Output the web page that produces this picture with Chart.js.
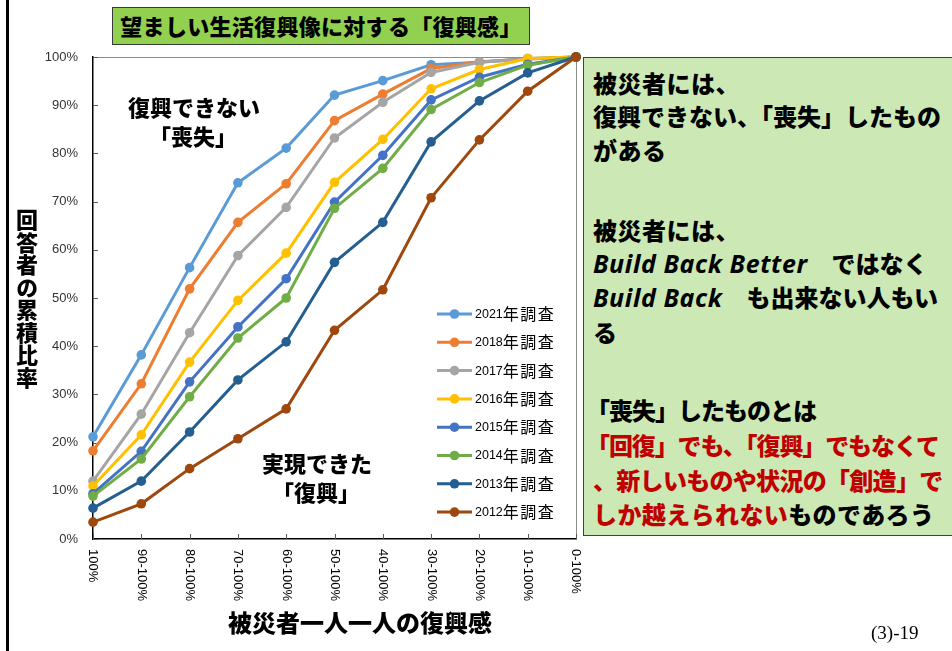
<!DOCTYPE html>
<html><head><meta charset="utf-8">
<script src="https://cdn.jsdelivr.net/npm/chart.js@4.4.1/dist/chart.umd.min.js"></script>
<style>
body{margin:0;background:#fff;}
#wrap{position:relative;width:952px;height:651px;overflow:hidden;background:#fff;font-family:"Noto Sans CJK JP","Noto Sans",sans-serif;}
#c{position:absolute;left:0;top:0;width:952px;height:651px;}
.abs{position:absolute;white-space:nowrap;}
.jp{font-family:"Noto Sans CJK JP",sans-serif;font-weight:900;color:#000;}
.ln{position:absolute;left:593px;white-space:nowrap;font-family:"Noto Sans CJK JP",sans-serif;font-weight:900;color:#000;font-size:24px;line-height:34px;height:34px;}
.red{color:#C00000;}
.lat{font-family:"Noto Sans","DejaVu Sans",sans-serif;font-style:italic;font-weight:700;font-size:25px;letter-spacing:0.6px;}
</style></head><body>
<div id="wrap">
<canvas id="c" width="952" height="651"></canvas>
<div class="abs" style="left:6px;top:0;width:2.5px;height:651px;background:#000"></div>
<div class="abs jp" style="left:112px;top:7px;width:418px;height:38px;box-sizing:border-box;background:#92D050;border:1.5px solid #3a3a3a;font-size:22px;line-height:35px;text-align:center;letter-spacing:0.3px;">望ましい生活復興像に対する「復興感」</div>
<div class="abs jp" style="left:16px;top:209px;font-size:22px;line-height:22px;writing-mode:vertical-rl;text-orientation:upright;letter-spacing:0.5px;">回答者の累積比率</div>
<div class="abs jp" style="left:210px;top:609px;width:300px;text-align:center;font-size:24px;line-height:26px;">被災者一人一人の復興感</div>
<div class="abs jp" style="left:94px;top:94px;width:200px;text-align:center;font-size:22px;line-height:24px;">復興できない</div>
<div class="abs jp" style="left:93px;top:123px;width:200px;text-align:center;font-size:22px;line-height:24px;">「喪失」</div>
<div class="abs jp" style="left:217px;top:450px;width:200px;text-align:center;font-size:22px;line-height:24px;">実現できた</div>
<div class="abs jp" style="left:216px;top:479px;width:200px;text-align:center;font-size:22px;line-height:24px;">「復興」</div>
<div class="abs" style="left:583px;top:57px;width:380px;height:479px;box-sizing:border-box;background:#CCE8B4;border:1px solid #404040;"></div>
<div class="ln" style="top:66px;letter-spacing:0.5px;">被災者には、</div>
<div class="ln" style="top:99px;">復興できない、「喪失」したもの</div>
<div class="ln" style="top:133px;letter-spacing:0.5px;">がある</div>
<div class="ln" style="top:213px;letter-spacing:0.5px;">被災者には、</div>
<div class="ln" style="top:246px;"><span class="lat">Build Back Better</span>　ではなく</div>
<div class="ln" style="top:280px;"><span class="lat">Build Back</span>　も出来ない人もい</div>
<div class="ln" style="top:315px;">る</div>
<div class="ln" style="top:393px;left:586px;letter-spacing:-1.0px;">「喪失」したものとは</div>
<div class="ln red" style="top:428px;left:586px;letter-spacing:-1.1px;">「回復」でも、「復興」でもなくて</div>
<div class="ln red" style="top:463px;letter-spacing:-0.7px;">、新しいものや状況の「創造」で</div>
<div class="ln" style="top:497px;letter-spacing:0.4px;"><span class="red">しか越えられない</span>ものであろう</div>
<div class="abs" style="left:871px;top:621px;font-family:'Liberation Serif',serif;font-size:19px;line-height:24px;color:#000;">(3)-19</div>
</div>
<script>
const categories = ['100%','90-100%','80-100%','70-100%','60-100%','50-100%','40-100%','30-100%','20-100%','10-100%','0-100%'];
const seriesLabels = ['2021年調査','2018年調査','2017年調査','2016年調査','2015年調査','2014年調査','2013年調査','2012年調査'];
const seriesColors = ['#5B9BD5','#ED7D31','#A5A5A5','#FFC000','#4472C4','#70AD47','#255E91','#9E480E'];
const v2021 = [21.2, 38.2, 56.3, 73.9, 81.1, 92.1, 95.1, 98.4, 98.9, 99.7, 100];
const v2018 = [18.3, 32.2, 51.9, 65.7, 73.7, 86.8, 92.3, 97.6, 99.0, 99.6, 100];
const v2017 = [12.0, 25.9, 42.8, 58.8, 68.8, 83.2, 90.6, 96.8, 98.9, 99.6, 100];
const v2016 = [11.0, 21.6, 36.7, 49.5, 59.3, 74.0, 82.9, 93.4, 97.4, 99.7, 100];
const v2015 = [9.4, 18.2, 32.6, 44.0, 54.0, 69.9, 79.6, 91.1, 95.8, 98.5, 100];
const v2014 = [8.9, 16.6, 29.5, 41.7, 50.0, 68.6, 76.9, 89.1, 94.7, 98.3, 100];
const v2013 = [6.4, 12.0, 22.2, 33.0, 40.9, 57.4, 65.7, 82.4, 90.9, 96.7, 100];
const v2012 = [3.5, 7.3, 14.6, 20.8, 27.0, 43.3, 51.7, 70.8, 82.8, 92.9, 100];
const yTicks = [0,10,20,30,40,50,60,70,80,90,100];
const allValues = [v2021, v2018, v2017, v2016, v2015, v2014, v2013, v2012];

const datasets = allValues.map((vals, i) => ({
  label: seriesLabels[i],
  data: vals,
  borderColor: seriesColors[i],
  backgroundColor: seriesColors[i],
  pointBackgroundColor: seriesColors[i],
  pointBorderColor: seriesColors[i],
  borderWidth: 3,
  pointRadius: 4.8,
  pointBorderWidth: 0,
  tension: 0,
  clip: false,
  order: allValues.length - i
}));

const decor = {
  id: 'decor',
  beforeDatasetsDraw(chart) {
    const {ctx, chartArea: a, scales: {x, y}} = chart;
    ctx.save();
    ctx.strokeStyle = '#8c8c8c'; ctx.lineWidth = 1;
    ctx.beginPath();
    ctx.moveTo(a.left, a.top + 0.5); ctx.lineTo(a.right + 0.5, a.top + 0.5); ctx.lineTo(a.right + 0.5, a.bottom);
    ctx.stroke();
    ctx.strokeStyle = '#595959';
    ctx.beginPath();
    y.ticks.forEach((t, i) => { const py = Math.round(y.getPixelForTick(i)) + 0.5; ctx.moveTo(a.left, py); ctx.lineTo(a.left + 5, py); });
    x.ticks.forEach((t, i) => { const px = Math.round(x.getPixelForTick(i)) + 0.5; ctx.moveTo(px, a.bottom); ctx.lineTo(px, a.bottom - 5); });
    ctx.stroke();
    ctx.restore();
  },
  afterDraw(chart) {
    const {ctx, chartArea: a, scales: {x}} = chart;
    ctx.save();
    ctx.fillStyle = '#000';
    ctx.font = '13px "Liberation Sans", Arial, sans-serif';
    ctx.textAlign = 'left'; ctx.textBaseline = 'middle';
    x.ticks.forEach((t, i) => {
      const px = x.getPixelForTick(i);
      ctx.save();
      ctx.translate(px, a.bottom + 10);
      ctx.rotate(Math.PI / 2);
      ctx.fillText(x.getLabelForValue(t.value), 0, 0);
      ctx.restore();
    });
    chart.data.datasets.forEach((ds, i) => {
      const cy = 314 + i * 28.3;
      ctx.strokeStyle = ds.borderColor; ctx.lineWidth = 3;
      ctx.beginPath(); ctx.moveTo(437, cy); ctx.lineTo(472, cy); ctx.stroke();
      ctx.fillStyle = ds.borderColor;
      ctx.beginPath(); ctx.arc(454.5, cy, 4.8, 0, Math.PI * 2); ctx.fill();
      const m = ds.label.match(/^(\d+)(.*)$/);
      ctx.fillStyle = '#000';
      ctx.textAlign = 'left'; ctx.textBaseline = 'middle';
      ctx.font = '12.5px "Liberation Sans", Arial, sans-serif';
      ctx.fillText(m[1], 475, cy + 0.5);
      const w = ctx.measureText(m[1]).width;
      ctx.font = '16px "Noto Sans CJK JP", sans-serif';
      let xx = 475 + w;
      for (const ch of m[2]) { ctx.fillText(ch, xx, cy); xx += 17.5; }
    });
    ctx.restore();
  }
};

new Chart(document.getElementById('c'), {
  type: 'line',
  data: { labels: categories, datasets },
  options: {
    responsive: false,
    animation: false,
    devicePixelRatio: 1,
    layout: { padding: { left: 0, top: 57, right: 376, bottom: 0 } },
    plugins: { legend: { display: false }, tooltip: { enabled: false }, title: { display: false } },
    scales: {
      x: {
        type: 'category',
        offset: false,
        grid: { display: false, drawTicks: false },
        border: { display: true, color: '#000', width: 1.5 },
        ticks: { display: false },
        afterFit: s => { s.height = 112; }
      },
      y: {
        min: 0, max: 100,
        afterBuildTicks: s => { s.ticks = yTicks.map(v => ({ value: v })); },
        grid: { display: false, drawTicks: false },
        border: { display: true, color: '#000', width: 1.5 },
        ticks: { padding: 15, color: '#333', font: { size: 13, family: '"Liberation Sans", Arial, sans-serif' }, callback: v => v + '%' },
        afterFit: s => { s.width = 93; }
      }
    }
  },
  plugins: [decor]
});
</script>
</body></html>
